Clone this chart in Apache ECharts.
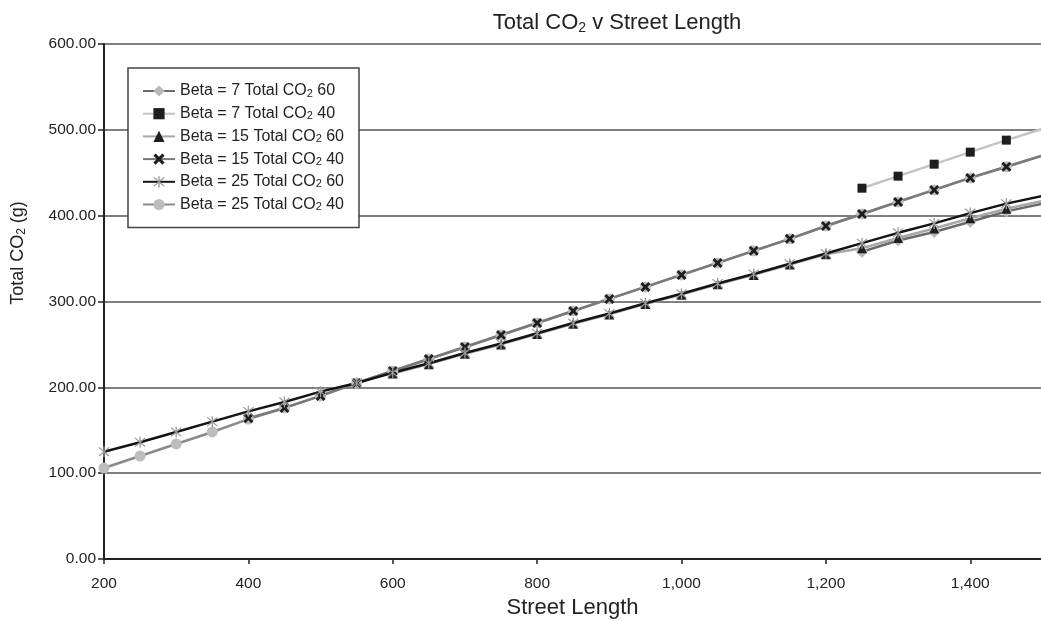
<!DOCTYPE html>
<html>
<head>
<meta charset="utf-8">
<title>Total CO2 v Street Length</title>
<script src="https://cdn.jsdelivr.net/npm/echarts@6/dist/echarts.min.js"></script>
<style>
  html, body { margin: 0; padding: 0; background: #fff; }
  #main { width: 1041px; height: 621px; }
</style>
</head>
<body>
<div id="main"></div>
<script>
// street length (x) for every row of the table
var streetLength = [200, 250, 300, 350, 400, 450, 500, 550, 600, 650, 700, 750, 800, 850,
  900, 950, 1000, 1050, 1100, 1150, 1200, 1250, 1300, 1350, 1400, 1450, 1500];

// total CO2 (g); null where a series has no point
var beta7co2_60 = [null, null, null, null, null, null, null, null, null, null, null, null, null, null,
  null, null, null, null, null, null, null, 358, 371, 381, 393, 405, 414];
var beta7co2_40 = [null, null, null, null, null, null, null, null, null, null, null, null, null, null,
  null, null, null, null, null, null, null, 432, 446, 460, 474, 488, 501];
var beta15co2_60 = [null, null, null, null, null, null, null, null, 216, 227, 239, 250, 262, 274,
  285, 297, 308, 320, 331, 343, 355, 362, 374, 385, 397, 408, 417];
var beta15co2_40 = [null, null, null, null, 164, 176, 190, 205, 219, 233, 247, 261, 275, 289,
  303, 317, 331, 345, 359, 373, 388, 402, 416, 430, 444, 457, 470];
var beta25co2_60 = [125, 136, 148, 160, 172, 183, 195, 205, 217, 228, 240, 251, 263, 275,
  286, 298, 309, 321, 332, 344, 356, 368, 380, 391, 403, 414, 423];
var beta25co2_40 = [106, 120, 134, 148, 163, 176, 190, 205, 219, 233, 247, 261, 275, 289,
  303, 317, 331, 345, 359, 373, 388, 402, 416, 430, 444, 457, 470];

var legendNames = ['Beta = 7 Total CO2 60', 'Beta = 7 Total CO2 40', 'Beta = 15 Total CO2 60',
  'Beta = 15 Total CO2 40', 'Beta = 25 Total CO2 60', 'Beta = 25 Total CO2 40'];

var FONT = "'Liberation Sans', Arial, sans-serif";
var xMark = 'path://M0,2 L2,0 L5,3 L8,0 L10,2 L7,5 L10,8 L8,10 L5,7 L2,10 L0,8 L3,5 Z';
var starMark = 'path://M4.5,0 L5.5,0 L5.5,10 L4.5,10 Z M0.7,1.4 L1.4,0.7 L9.3,8.6 L8.6,9.3 Z M8.6,0.7 L9.3,1.4 L1.4,9.3 L0.7,8.6 Z';

function pairs(vals) {
  var out = [];
  for (var i = 0; i < streetLength.length; i++) {
    out.push([streetLength[i], vals[i]]);
  }
  return out;
}

function mkSeries(name, vals, lineColor, symbol, symbolSize, markColor) {
  return {
    name: name,
    type: 'line',
    data: pairs(vals),
    symbol: symbol,
    symbolSize: symbolSize,
    showAllSymbol: true,
    clip: true,
    lineStyle: { color: lineColor, width: 2.5 },
    itemStyle: { color: markColor, borderWidth: 0 },
    emphasis: { disabled: true }
  };
}

var chart = echarts.init(document.getElementById('main'));
var option = {
  backgroundColor: '#fff',
  animation: false,
  title: {
    text: 'Total CO{sub|2} v Street Length',
    left: 612,
    top: 6,
    textAlign: 'center',
    textStyle: {
      fontFamily: FONT, fontSize: 22, fontWeight: 'normal', color: '#222',
      rich: { sub: { fontFamily: FONT, fontSize: 14, color: '#222', padding: [10, 0, 0, 0] } }
    }
  },
  legend: {
    orient: 'vertical',
    left: 128,
    top: 68,
    padding: [15, 15, 15, 14],
    itemGap: 6.7,
    itemWidth: 32,
    itemHeight: 14,
    backgroundColor: '#fff',
    borderColor: '#444',
    borderWidth: 1.5,
    borderRadius: 0,
    data: legendNames,
    formatter: function (n) { return n.replace('CO2', 'CO{s|2}'); },
    textStyle: {
      fontFamily: FONT, fontSize: 16, color: '#222',
      rich: { s: { fontFamily: FONT, fontSize: 11, color: '#222', verticalAlign: 'bottom', padding: [4, 0, 0, 0] } }
    }
  },
  grid: { left: 104, right: 0, top: 44, bottom: 62, outerBoundsMode: 'none' },
  xAxis: {
    type: 'value',
    min: 200,
    max: 1498,
    interval: 200,
    name: 'Street Length',
    nameLocation: 'middle',
    nameGap: 37,
    nameTextStyle: { fontFamily: FONT, fontSize: 22, color: '#222' },
    axisLine: { show: true, lineStyle: { color: '#222', width: 2 } },
    axisTick: { show: true, length: 5, lineStyle: { color: '#222', width: 1.5 } },
    axisLabel: {
      fontFamily: FONT, fontSize: 15.5, color: '#222', margin: 17,
      showMaxLabel: false,
      formatter: function (v) { return v.toLocaleString('en-US'); }
    },
    splitLine: { show: false }
  },
  yAxis: {
    type: 'value',
    min: 0,
    max: 600,
    interval: 100,
    axisLine: { show: true, lineStyle: { color: '#222', width: 2 } },
    axisTick: { show: true, length: 6, lineStyle: { color: '#222', width: 1.5 } },
    axisLabel: {
      fontFamily: FONT, fontSize: 15.5, color: '#222', margin: 8,
      formatter: function (v) { return v.toFixed(2); }
    },
    splitLine: { show: true, lineStyle: { color: '#555', width: 1.5 } }
  },
  graphic: [{
    type: 'text',
    x: 18,
    y: 253,
    rotation: Math.PI / 2,
    style: {
      text: 'Total CO{sub|2} (g)',
      fontFamily: FONT, fontSize: 18, fill: '#222',
      align: 'center', verticalAlign: 'middle',
      rich: { sub: { fontFamily: FONT, fontSize: 12, fill: '#222', padding: [8, 0, 0, 0] } }
    }
  }],
  series: [
    mkSeries(legendNames[5], beta25co2_40, '#8a8a8a', 'circle', 11, '#bdbdbd'),
    mkSeries(legendNames[0], beta7co2_60, '#6a6a6a', 'diamond', 12, '#b8b8b8'),
    mkSeries(legendNames[1], beta7co2_40, '#c4c4c4', 'rect', 9, '#1e1e1e'),
    mkSeries(legendNames[2], beta15co2_60, '#a8a8a8', 'triangle', 10, '#1e1e1e'),
    mkSeries(legendNames[3], beta15co2_40, '#7a7a7a', xMark, 10, '#1e1e1e'),
    mkSeries(legendNames[4], beta25co2_60, '#141414', starMark, 11, '#9a9a9a')
  ]
};
chart.setOption(option);
</script>
</body>
</html>
